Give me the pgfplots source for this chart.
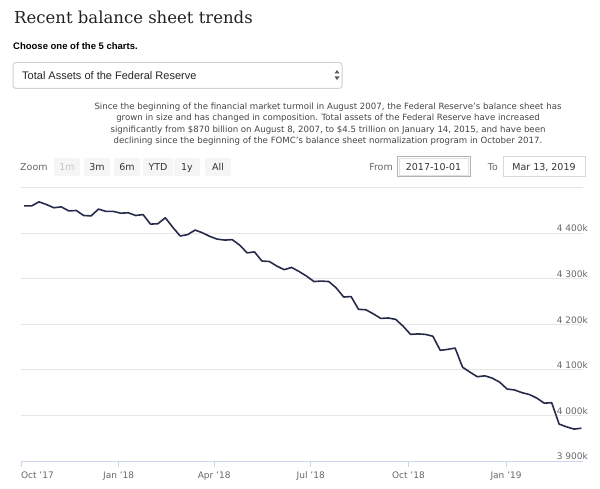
\documentclass[border=0pt]{standalone}
\usepackage{fontspec}
\setmainfont{DejaVu Sans}
\newfontfamily\seriff{DejaVu Serif}
\newfontfamily\arialf{Liberation Sans}
\usepackage{pgfplots}
\pgfplotsset{compat=1.18}
\usepackage{pgfplotstable}
\definecolor{navy}{RGB}{38,43,75}
\definecolor{gridc}{RGB}{230,230,230}
\definecolor{axisc}{RGB}{204,214,235}
\definecolor{lab}{RGB}{102,102,102}
\definecolor{txt}{RGB}{68,68,68}
\definecolor{btn}{RGB}{245,245,245}

\pgfplotstableread{
day value
3 4460
10 4460
17 4469
24 4463
31 4456
38 4458
45 4449
52 4450
59 4439
66 4438
73 4453
80 4448
87 4448
94 4444
101 4445
108 4439
115 4441
122 4420
129 4421
136 4434
143 4413
150 4394
157 4397
164 4407
171 4401
178 4393
185 4387
192 4385
199 4386
206 4374
213 4357
220 4359
227 4339
234 4338
241 4328
248 4320
255 4325
262 4316
269 4306
276 4294
283 4295
290 4294
297 4280
304 4260
311 4261
318 4233
325 4232
332 4223
339 4213
346 4214
353 4211
360 4196
367 4178
374 4179
381 4178
388 4174
395 4143
402 4145
409 4148
416 4106
423 4095
430 4085
437 4087
444 4082
451 4073
458 4058
465 4056
472 4050
479 4046
486 4038
493 4027
500 4028
507 3981
514 3975
521 3970
528 3972
}\assets

\begin{document}
\begin{tikzpicture}[x=1pt,y=1pt]
\path[use as bounding box] (0,0) rectangle (600,488);
% header
\node[anchor=base west, inner sep=0, font=\seriff\fontsize{16.5}{20}\selectfont, text=black!87] at (14,464) {Recent balance sheet trends};
\node[anchor=base west, inner sep=0, font=\arialf\bfseries\fontsize{9.5}{11}\selectfont] at (13,438.5) {Choose one of the 5 charts.};
\draw[draw=black!18, line width=1pt, fill=white, rounded corners=3pt] (13,425.5) rectangle (342,399.5);
\node[anchor=base west, inner sep=0, font=\arialf\fontsize{11}{13}\selectfont, text=black!85] at (22,408) {Total Assets of the Federal Reserve};
\fill[black!65] (334.5,414.5) -- (339.5,414.5) -- (337,418) -- cycle;
\fill[black!65] (334.5,411.5) -- (339.5,411.5) -- (337,408) -- cycle;
% paragraph
\begin{scope}[every node/.style={anchor=base, inner sep=0, font=\fontsize{8.6}{10}\selectfont, text=txt}]
\node at (328,378.5) {Since the beginning of the financial market turmoil in August 2007, the Federal Reserve's balance sheet has};
\node at (328,367) {grown in size and has changed in composition. Total assets of the Federal Reserve have increased};
\node at (328,355.5) {significantly from \$870 billion on August 8, 2007, to \$4.5 trillion on January 14, 2015, and have been};
\node at (328,344) {declining since the beginning of the FOMC's balance sheet normalization program in October 2017.};
\end{scope}
% range selector
\begin{scope}[every node/.style={anchor=base, inner sep=0, font=\fontsize{9.5}{11}\selectfont, text=black!80}]
\node[anchor=base west, text=lab] at (20,317.5) {Zoom};
\foreach \cx/\w/\t in {67/13/1m, 97/13/3m, 127/13/6m, 158/15/YTD, 187/13/1y, 218/13/All}{
  \fill[btn, rounded corners=2pt] (\cx-\w,312) rectangle (\cx+\w,330);
}
\node[text=black!22] at (67,317.5) {1m};
\node at (97,317.5) {3m};
\node at (127,317.5) {6m};
\node at (158,317.5) {YTD};
\node at (187,317.5) {1y};
\node at (218,317.5) {All};
\node[anchor=base east, text=lab] at (393,317.5) {From};
\draw[black!30, line width=1pt] (397.5,311) rectangle (470,331);
\draw[black!12, line width=0.8pt] (399,312.5) rectangle (468.5,329.5);
\node at (433.5,317.5) {2017-10-01};
\node[anchor=base east, text=lab] at (498,317.5) {To};
\draw[black!15, line width=1pt] (503,311) rectangle (585,331);
\node at (544,317.5) {Mar 13, 2019};
\end{scope}
% chart
\begin{axis}[
 at={(21pt,27pt)}, anchor=south west,
 scale only axis, width=562pt, height=273.3pt,
 xmin=0, xmax=529.5, ymin=3900, ymax=4500,
 axis x line*=bottom, axis y line*=right,
 x axis line style={draw=axisc, line width=1pt, -},
 y axis line style={draw=none},
 xtick={0,92,182,273,365,457},
 xticklabels={{\makebox[0pt][l]{Oct '17}},Jan '18,Apr '18,Jul '18,Oct '18,Jan '19},
 ytick={3900,4000,4100,4200,4300,4400,4500},
 yticklabels={3 900k,4 000k,4 100k,4 200k,4 300k,4 400k,{}},
 ymajorgrids, major grid style={draw=gridc, line width=1pt},
 tick align=outside,
 x tick style={draw=axisc, line width=1pt},
 major tick length=6pt,
 y tick style={draw=none},
 xticklabel style={font=\fontsize{9}{10}\selectfont, text=lab, anchor=base, yshift=-11.5pt},
 yticklabel style={font=\fontsize{9}{10}\selectfont, text=lab, anchor=south east, inner sep=1pt},
 clip=false,
]
\addplot[color=navy, line width=1.6pt, line join=round] table[x=day, y=value] {\assets};
\end{axis}
\end{tikzpicture}
\end{document}
